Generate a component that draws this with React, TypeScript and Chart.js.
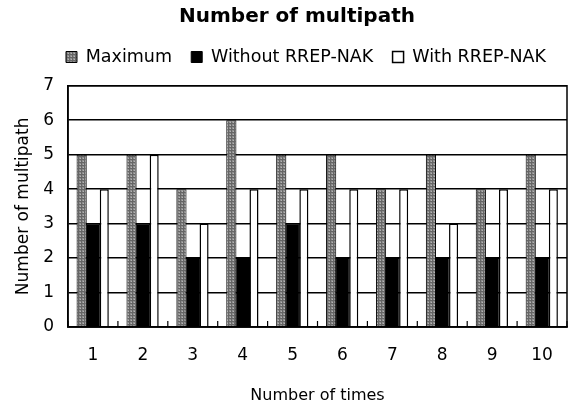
import React, { useEffect, useRef } from 'react';
import { Chart, registerables } from 'chart.js';

Chart.register(...registerables);

// ---- data ----
const categories = ['1', '2', '3', '4', '5', '6', '7', '8', '9', '10'];
const seriesNames = ['Maximum', 'Without RREP-NAK', 'With RREP-NAK'];
const maximumValues = [5, 5, 4, 6, 5, 5, 4, 5, 4, 5];
const withoutNakValues = [3, 3, 2, 2, 3, 2, 2, 2, 2, 2];
const withNakValues = [4, 5, 3, 4, 4, 4, 4, 3, 4, 4];
const yMin = 0;
const yMax = 7;
const yStep = 1;

// ---- layout / style constants ----
const FONT = "'DejaVu Sans', sans-serif";
const LEGEND_SHIFT = 20;
const TITLE_SHIFT = 11;
const LEGEND_EXTRA_GAP = 10;

function makeHatch(): CanvasPattern | string {
  const c = document.createElement('canvas');
  c.width = 3;
  c.height = 3;
  const g = c.getContext('2d');
  if (!g) return '#888';
  g.fillStyle = '#8e8e8e';
  g.fillRect(0, 0, 3, 3);
  g.fillStyle = '#666666';
  g.fillRect(0, 0, 3, 1);
  g.fillRect(0, 0, 1, 3);
  g.fillStyle = '#b4b4b4';
  g.fillRect(2, 2, 1, 1);
  return g.createPattern(c, 'repeat') || '#888';
}

const layoutTweaks = {
  id: 'layoutTweaks',
  beforeInit(chart: any) {
    const lg = chart.legend;
    if (lg) {
      const orig = lg.fit;
      lg.fit = function () {
        orig.call(this);
        this.height += LEGEND_EXTRA_GAP;
      };
    }
  },
  afterLayout(chart: any) {
    if (chart.legend) {
      chart.legend.left += LEGEND_SHIFT;
      chart.legend.right += LEGEND_SHIFT;
    }
    if (chart.titleBlock) {
      chart.titleBlock.left += TITLE_SHIFT;
      chart.titleBlock.right += TITLE_SHIFT;
    }
  },
};

const frame = {
  id: 'frame',
  afterDatasetsDraw(chart: any) {
    const { ctx, chartArea: a } = chart;
    const xs = chart.scales.x;
    ctx.save();
    ctx.strokeStyle = '#000';
    ctx.lineWidth = 1.5;
    ctx.strokeRect(a.left, a.top, a.right - a.left, a.bottom - a.top);
    ctx.lineWidth = 1.2;
    ctx.beginPath();
    for (let i = 0; i <= categories.length; i++) {
      const px = xs.getPixelForValue(i - 0.5);
      ctx.moveTo(px, a.bottom);
      ctx.lineTo(px, a.bottom - 6);
    }
    ctx.stroke();
    ctx.restore();
  },
};

export default function App() {
  const ref = useRef<HTMLCanvasElement | null>(null);

  useEffect(() => {
    document.body.style.margin = '0';
    const canvas = ref.current;
    if (!canvas) return;
    Chart.defaults.font.family = FONT;
    Chart.defaults.color = '#000';
    const hatch = makeHatch();

    const chart = new Chart(canvas, {
      type: 'bar',
      data: {
        labels: categories,
        datasets: [
          {
            label: seriesNames[0],
            data: maximumValues,
            backgroundColor: hatch as any,
            borderColor: '#000',
            borderWidth: 1,
            categoryPercentage: 0.68,
            barPercentage: 0.9,
          },
          {
            label: seriesNames[1],
            data: withoutNakValues,
            backgroundColor: '#000',
            borderColor: '#000',
            borderWidth: 1,
            categoryPercentage: 0.68,
            barPercentage: 1.3,
          },
          {
            label: seriesNames[2],
            data: withNakValues,
            backgroundColor: '#fff',
            borderColor: '#000',
            borderWidth: 1.5,
            categoryPercentage: 0.68,
            barPercentage: 0.8,
          },
        ],
      },
      options: {
        responsive: false,
        animation: false,
        layout: { padding: { left: 5, right: 5, top: 0, bottom: 1 } },
        plugins: {
          title: {
            display: true,
            text: 'Number of multipath',
            color: '#000',
            font: { family: FONT, size: 20, weight: 'bold' },
            padding: { top: 5, bottom: 0 },
          },
          legend: {
            display: true,
            position: 'top',
            labels: {
              color: '#000',
              font: { family: FONT, size: 17.5 },
              boxWidth: 11,
              boxHeight: 11,
              padding: 19.25,
            },
          },
          tooltip: { enabled: false },
        },
        scales: {
          x: {
            grid: { display: false, drawTicks: false },
            border: { display: true, color: '#000', width: 1.5 },
            ticks: { color: '#000', font: { family: FONT, size: 17 }, padding: 18, maxRotation: 0 },
            title: {
              display: true,
              text: 'Number of times',
              color: '#000',
              font: { family: FONT, size: 16 },
              padding: { top: 2.4, bottom: 0 },
            },
          },
          y: {
            min: yMin,
            max: yMax,
            grid: { color: '#000', lineWidth: 1.6, drawTicks: false },
            border: { display: true, color: '#000', width: 1.5 },
            ticks: { stepSize: yStep, color: '#000', font: { family: FONT, size: 17 }, padding: 14 },
            title: {
              display: true,
              text: 'Number of multipath',
              color: '#000',
              font: { family: FONT, size: 17 },
              padding: { top: 8.3, bottom: -4.5 },
            },
          },
        },
      },
      plugins: [layoutTweaks, frame],
    });

    return () => chart.destroy();
  }, []);

  return (
    <div style={{ width: 572, height: 406 }}>
      <canvas ref={ref} width={572} height={406} style={{ display: 'block' }} />
    </div>
  );
}
